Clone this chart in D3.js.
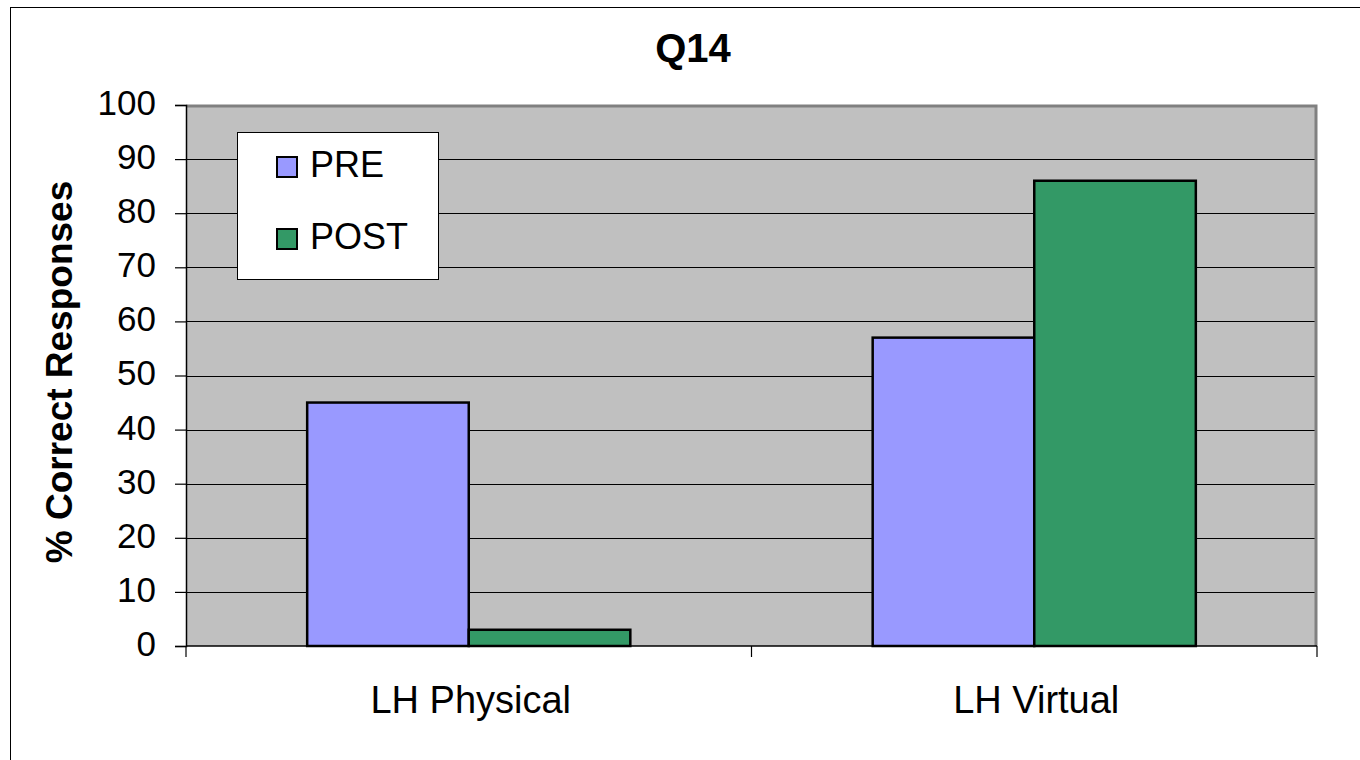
<!DOCTYPE html>
<html>
<head>
<meta charset="utf-8">
<script src="https://cdn.jsdelivr.net/npm/d3@7"></script>
<style>
  body { margin: 0; background: #fff; }
  svg { display: block; font-family: "Liberation Sans", Arial, sans-serif; }
</style>
</head>
<body>
<div id="chart"></div>
<script>
// data
const categories = ['LH Physical', 'LH Virtual'];
const seriesNames = ['PRE', 'POST'];
const preValues = [45, 57];
const postValues = [3, 86];
const yTicks = [0, 10, 20, 30, 40, 50, 60, 70, 80, 90, 100];
const colors = { PRE: '#9999FF', POST: '#339966' };

const W = 1360, H = 760;
const plot = { left: 186, right: 1317, top: 105, bottom: 646 };

const svg = d3.select('#chart').append('svg')
  .attr('width', W).attr('height', H);

// outer chart frame (only top/left edges fall inside the picture)
svg.append('rect')
  .attr('x', 10.5).attr('y', 7.5)
  .attr('width', W + 20).attr('height', H + 20)
  .attr('fill', '#fff').attr('stroke', '#000').attr('stroke-width', 1);

const x = d3.scaleBand().domain(categories).range([plot.left, plot.right]);
const y = d3.scaleLinear().domain([0, 100]).range([plot.bottom, plot.top]);

// plot area
svg.append('rect')
  .attr('x', plot.left).attr('y', plot.top)
  .attr('width', plot.right - plot.left).attr('height', plot.bottom - plot.top)
  .attr('fill', '#C0C0C0');

// gridlines
svg.append('g').selectAll('line')
  .data(yTicks.filter(d => d > 0 && d < 100))
  .join('line')
  .attr('x1', plot.left).attr('x2', plot.right)
  .attr('y1', d => Math.round(y(d)) + 0.5).attr('y2', d => Math.round(y(d)) + 0.5)
  .attr('stroke', '#000').attr('stroke-width', 1);

// plot border top/right gray
svg.append('path')
  .attr('d', `M${plot.left},${plot.top + 1}H${plot.right - 1}V${plot.bottom}`)
  .attr('fill', 'none').attr('stroke', '#808080').attr('stroke-width', 3);

// bars
const barW = x.bandwidth() / 3.5;
const series = [
  { name: 'PRE', values: preValues },
  { name: 'POST', values: postValues }
];
series.forEach((s, si) => {
  svg.append('g').selectAll('rect')
    .data(categories.map((c, i) => ({ c, v: s.values[i] })))
    .join('rect')
    .attr('x', d => x(d.c) + x.bandwidth() / 2 + (si - 1) * barW)
    .attr('y', d => y(d.v))
    .attr('width', barW)
    .attr('height', d => y(0) - y(d.v))
    .attr('fill', colors[s.name])
    .attr('stroke', '#000').attr('stroke-width', 2.5);
});

// y axis
const yAxis = svg.append('g')
  .attr('transform', `translate(${plot.left},0)`)
  .call(d3.axisLeft(y).tickValues(yTicks).tickSize(11).tickPadding(19));
yAxis.select('.domain').attr('stroke', '#000').attr('stroke-width', 1.5);
yAxis.selectAll('.tick line').attr('stroke', '#000').attr('stroke-width', 1.2);
yAxis.selectAll('.tick text')
  .attr('font-size', 35).attr('fill', '#000')
  .attr('font-family', '"Liberation Sans", Arial, sans-serif')
  .attr('dy', '0.27em');

// x axis
const xAxis = svg.append('g')
  .attr('transform', `translate(0,${plot.bottom})`);
xAxis.append('line')
  .attr('x1', plot.left).attr('x2', plot.right)
  .attr('y1', 0).attr('y2', 0)
  .attr('stroke', '#000').attr('stroke-width', 1.5);
const bounds = [plot.left, ...categories.map(c => x(c) + x.bandwidth())];
xAxis.selectAll('line.tk')
  .data(bounds)
  .join('line').attr('class', 'tk')
  .attr('x1', d => d).attr('x2', d => d)
  .attr('y1', 0).attr('y2', 11)
  .attr('stroke', '#000').attr('stroke-width', 1.2);
xAxis.selectAll('text')
  .data(categories)
  .join('text')
  .attr('x', d => x(d) + x.bandwidth() / 2 + 2)
  .attr('y', 66.5)
  .attr('text-anchor', 'middle')
  .attr('font-size', 38)
  .text(d => d);

// title
svg.append('text')
  .attr('x', 693).attr('y', 62)
  .attr('text-anchor', 'middle')
  .attr('font-size', 40).attr('font-weight', 700)
  .text('Q14');

// y label
svg.append('text')
  .attr('transform', `translate(72,372) rotate(-90)`)
  .attr('text-anchor', 'middle')
  .attr('font-size', 37).attr('font-weight', 700)
  .text('% Correct Responses');

// legend
const lg = svg.append('g').attr('transform', 'translate(237,132)');
lg.append('rect')
  .attr('x', 0.5).attr('y', 0.5).attr('width', 201).attr('height', 147)
  .attr('fill', '#fff').attr('stroke', '#000').attr('stroke-width', 1);
seriesNames.forEach((name, i) => {
  const row = lg.append('g').attr('transform', `translate(0,${25 + i * 72})`);
  row.append('rect')
    .attr('x', 40).attr('y', 0).attr('width', 20).attr('height', 20)
    .attr('fill', colors[name]).attr('stroke', '#000').attr('stroke-width', 2);
  row.append('text')
    .attr('x', 73).attr('y', 20)
    .attr('font-size', 36)
    .text(name);
});
</script>
</body>
</html>
